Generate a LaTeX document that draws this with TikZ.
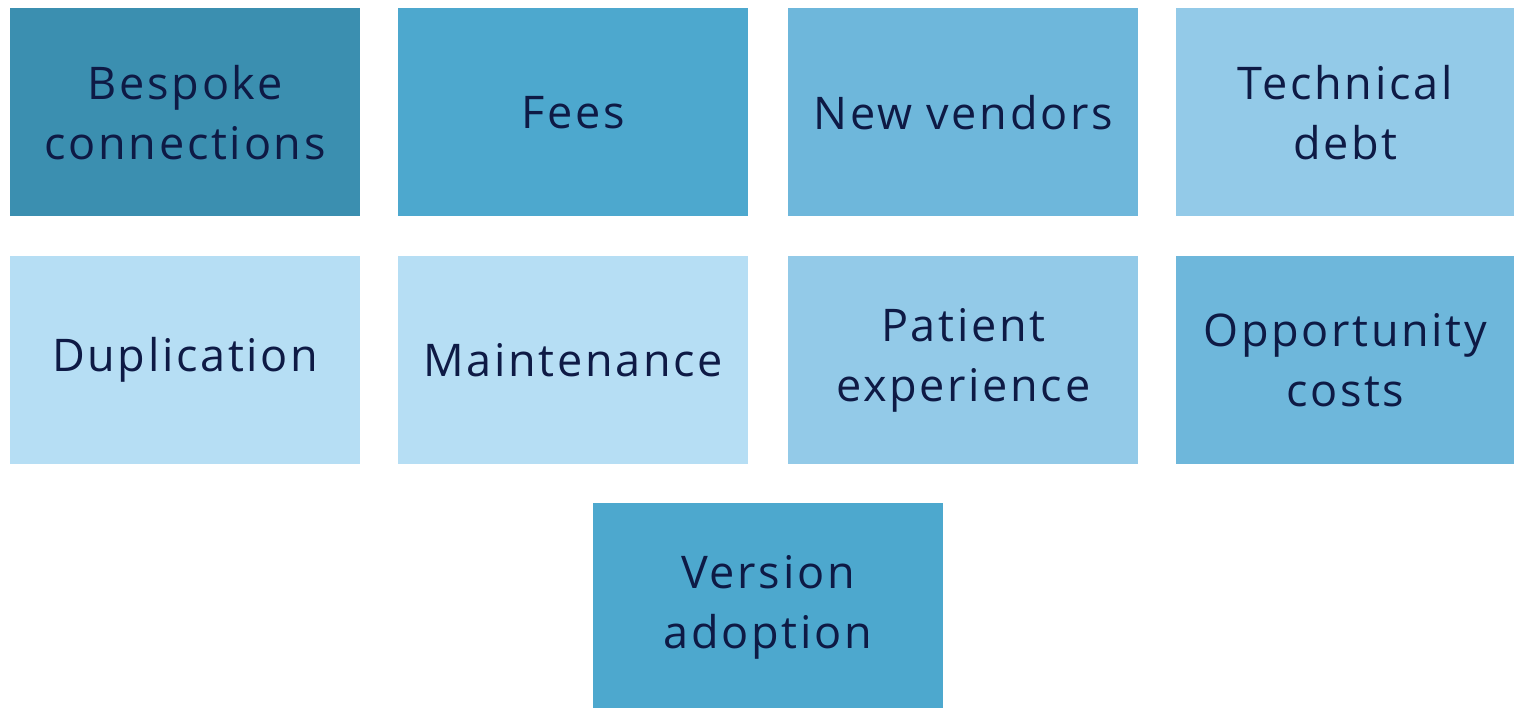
\documentclass[tikz,border=0pt]{standalone}
\usepackage{fontspec}
\setmainfont[LetterSpace=6]{Open Sans}
\definecolor{cA}{HTML}{3B8FB0}
\definecolor{cB}{HTML}{4DA8CE}
\definecolor{cC}{HTML}{6EB7DB}
\definecolor{cD}{HTML}{93CAE8}
\definecolor{cE}{HTML}{B6DEF4}
\definecolor{txt}{HTML}{0E1A45}
\begin{document}
\begin{tikzpicture}[x=1pt,y=-1pt,
  tile/.style={draw=none,minimum width=350pt,minimum height=208pt,inner sep=0pt,anchor=north west,
    align=center,text=txt,font=\fontsize{45}{60}\selectfont}]
\useasboundingbox (0,0) rectangle (1514,708);
\begin{scope}
\clip (0,0) rectangle (1514,708);
\node[tile,fill=cA] (b1) at (10,8) {Bespoke\\connections};
\node[tile,fill=cB] (b2) at (398,8) {Fees};
\node[tile,fill=cC] (b3) at (788,8) {New vendors};
\node[tile,fill=cD,minimum width=338pt] (b4) at (1176,8) {Technical\\debt};
\node[tile,fill=cE] (b5) at (10,256) {Duplication};
\node[tile,fill=cE] (b6) at (398,256) {Maintenance};
\node[tile,fill=cD] (b7) at (788,256) {Patient\\experience};
\node[tile,fill=cC,minimum width=338pt] (b8) at (1176,256) {Opportunity\\costs};
\node[tile,fill=cB,minimum height=230pt] (b9) at (593,503) {};
\node[text=txt,align=center,font=\fontsize{45}{60}\selectfont,anchor=center] (t9) at (768,607) {Version\\adoption};
\end{scope}
\end{tikzpicture}
\end{document}
